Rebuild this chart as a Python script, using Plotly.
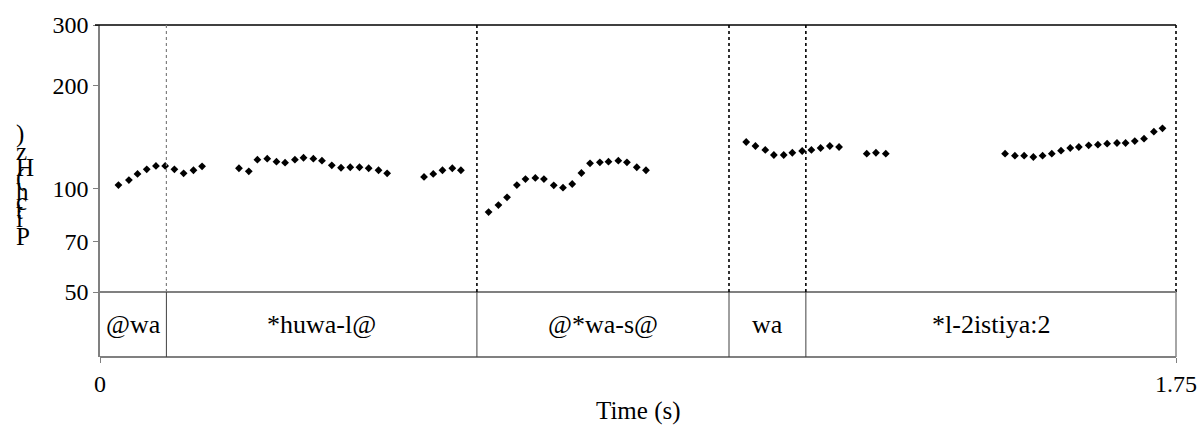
import plotly.graph_objects as go

# ---- data ----
times = [
    0.030, 0.047, 0.061, 0.076, 0.091, 0.106, 0.121, 0.136, 0.152, 0.166,
    0.226, 0.242, 0.256, 0.272, 0.287, 0.301, 0.317, 0.331, 0.347, 0.361,
    0.377, 0.392, 0.407, 0.422, 0.437, 0.453, 0.467,
    0.527, 0.542, 0.557, 0.573, 0.587,
    0.632, 0.648, 0.662, 0.678, 0.692, 0.708, 0.722, 0.738, 0.753, 0.768,
    0.783, 0.797, 0.813, 0.827, 0.843, 0.857, 0.873, 0.888,
    1.051, 1.066, 1.082, 1.096, 1.112, 1.126, 1.142, 1.157, 1.172, 1.187, 1.202,
    1.247, 1.262, 1.278,
    1.472, 1.488, 1.503, 1.518, 1.533, 1.548, 1.563, 1.578, 1.592, 1.608,
    1.623, 1.638, 1.654, 1.668, 1.683, 1.698, 1.714, 1.728,
]
pitch_hz = [
    102.5, 106.0, 110.4, 113.9, 116.5, 116.5, 113.9, 110.9, 113.2, 116.2,
    114.7, 112.4, 121.5, 122.3, 119.9, 119.1, 121.5, 123.1, 122.3, 120.7,
    117.0, 115.1, 115.5, 115.5, 114.7, 113.2, 110.9,
    108.2, 110.4, 113.2, 114.7, 113.2,
    85.5, 89.6, 94.4, 102.5, 106.7, 107.5, 106.7, 102.3, 100.7, 103.2,
    111.1, 118.6, 119.4, 119.9, 120.7, 119.4, 115.5, 113.2,
    136.8, 133.2, 129.7, 125.4, 125.4, 127.3, 128.8, 129.7, 131.4, 133.2, 132.3,
    126.5, 127.3, 126.5,
    126.5, 124.8, 124.8, 123.7, 124.8, 126.5, 129.1, 131.4, 132.3, 133.8,
    134.4, 135.3, 135.9, 135.9, 137.7, 139.9, 146.6, 150.0,
]
boundaries = [0.108, 0.613, 1.023, 1.148]
tier_labels = ["@wa", "*huwa-l@", "@*wa-s@", "wa", "*l-2istiya:2"]
x_range = [0.0, 1.75]
y_ticks = [50, 70, 100, 200, 300]
x_ticks = [0, 1.75]
y_title = "Pitch (Hz)"

FONT = "Liberation Serif"
W, H = 1201, 425
ML, MR, MT, MB = 100, 25, 25, 68
plot_w = W - ML - MR
plot_h = H - MT - MB
tier_frac = (357 - 292) / plot_h

fig = go.Figure()
fig.add_trace(go.Scatter(
    x=times, y=pitch_hz, mode="markers",
    marker=dict(symbol="diamond", size=6, color="black"),
    xaxis="x", yaxis="y", hoverinfo="x+y", showlegend=False,
))

shapes = []
GRAY = "#808080"
# top border
shapes.append(dict(type="line", xref="paper", yref="paper", x0=-5 / plot_w, x1=1,
                   y0=1, y1=1, line=dict(color="black", width=1.6)))
# right border: dashed in pitch area, solid in tier
shapes.append(dict(type="line", xref="paper", yref="paper", x0=1, x1=1,
                   y0=tier_frac, y1=1, line=dict(color="black", width=1.6, dash="dot")))
shapes.append(dict(type="line", xref="paper", yref="paper", x0=1, x1=1,
                   y0=0, y1=tier_frac, line=dict(color=GRAY, width=1.4)))
# tier horizontal lines
for yy in (0, tier_frac):
    shapes.append(dict(type="line", xref="paper", yref="paper", x0=0, x1=1,
                       y0=yy, y1=yy, line=dict(color=GRAY, width=2)))
# boundaries
for i, b in enumerate(boundaries):
    col = GRAY if i == 0 else "black"
    wid = 1.2 if i == 0 else 1.6
    shapes.append(dict(type="line", xref="x", yref="paper", x0=b, x1=b,
                       y0=tier_frac, y1=1, line=dict(color=col, width=wid, dash="dot")))
    shapes.append(dict(type="line", xref="x", yref="paper", x0=b, x1=b,
                       y0=0, y1=tier_frac, line=dict(color="#404040", width=1)))

annotations = []
edges = [x_range[0]] + boundaries + [x_range[1]]
for i, lab in enumerate(tier_labels):
    annotations.append(dict(x=(edges[i] + edges[i + 1]) / 2, y=0.5, xref="x", yref="y2",
                            text=lab, showarrow=False,
                            font=dict(family=FONT, size=26, color="black")))
# y-axis title rendered as stacked reversed characters
char_y = [134, 151, 167, 178, 186, 191, 201, 210, 218, 236]
for ch, py in zip(y_title[::-1], char_y):
    if ch == " ":
        continue
    annotations.append(dict(x=-(ML - 14) / plot_w, y=1 - (py - MT) / plot_h,
                            xref="paper", yref="paper", xanchor="left", yanchor="middle",
                            text=ch, showarrow=False,
                            font=dict(family=FONT, size=25, color="black")))
annotations.append(dict(x=0.5, y=-(411 - 357) / plot_h, xref="paper", yref="paper",
                        text="Time (s)", showarrow=False, yanchor="middle",
                        font=dict(family=FONT, size=25, color="black")))

fig.update_layout(
    width=W, height=H, autosize=False,
    margin=dict(l=ML, r=MR, t=MT, b=MB, pad=0, autoexpand=False),
    paper_bgcolor="white", plot_bgcolor="white",
    shapes=shapes, annotations=annotations,
    xaxis=dict(range=x_range, anchor="y2", tickvals=x_ticks, ticktext=["0", "1.75"],
               ticks="outside", ticklen=5, tickcolor=GRAY, showgrid=False, zeroline=False,
               showline=False, ticklabelstandoff=0, automargin=False,
               tickfont=dict(family=FONT, size=24, color="black")),
    yaxis=dict(type="log", range=[1.69897, 2.47712], domain=[tier_frac, 1],
               tickvals=y_ticks, ticktext=[str(v) for v in y_ticks], automargin=False,
               ticks="outside", ticklen=5, tickcolor=GRAY, showgrid=False, zeroline=False,
               showline=True, linecolor=GRAY, linewidth=1.5,
               tickfont=dict(family=FONT, size=24, color="black")),
    yaxis2=dict(range=[0, 1], domain=[0, tier_frac], showticklabels=False, ticks="",
                automargin=False,
                showgrid=False, zeroline=False, showline=True, linecolor=GRAY, linewidth=1.5),
)

fig.write_html(
    "out.html",
    config={"displayModeBar": False, "responsive": False},
    post_script="document.body.style.margin='0';document.body.style.overflow='hidden';",
)
